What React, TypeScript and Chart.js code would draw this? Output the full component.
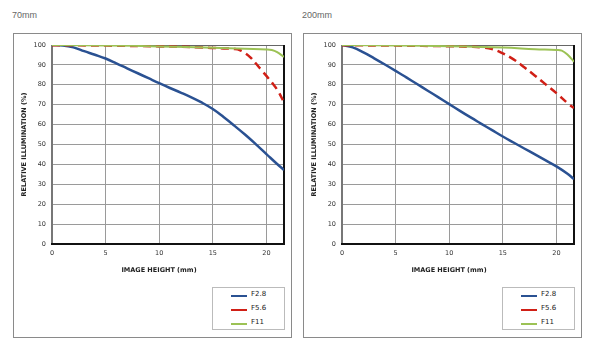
import React, { useEffect, useRef } from "react";
import { Chart, registerables } from "chart.js";

Chart.register(...registerables);

// ---------- data ----------
const panelTitles = ["70mm", "200mm"];
const seriesLabels = ["F2.8", "F5.6", "F11"];
const xTickValues = [0, 5, 10, 15, 20];
const imageHeightMax = 21.64;

const f28Heights = [0, 1, 2, 3, 4, 5, 6, 7, 8, 9, 10, 11, 12, 13, 14, 15, 16, 17, 18, 19, 20, 21, 21.64];
const f28_70mm = [100, 99.8, 98.8, 96.9, 95.1, 93.2, 90.8, 88.3, 85.8, 83.3, 80.8, 78.4, 76.1, 73.7, 71.0, 67.8, 63.8, 59.5, 55.0, 50.2, 45.2, 40.2, 37.2];
const f28_200mm = [100, 98.8, 96.3, 93.3, 90.2, 87.0, 83.7, 80.4, 77.0, 73.7, 70.3, 66.9, 63.6, 60.4, 57.2, 54.0, 51.0, 48.0, 45.0, 42.0, 39.0, 35.4, 32.6];

const f56Heights70 = [0, 5, 10, 14, 15, 16, 17, 17.5, 18, 18.5, 19, 19.5, 20, 20.5, 21, 21.64];
const f56_70mm = [99.9, 99.7, 99.3, 98.8, 98.5, 98.3, 98.0, 97.5, 96.0, 93.8, 90.8, 87.6, 84.5, 81.2, 77.6, 71.3];
const f56Heights200 = [0, 5, 10, 12, 13, 14, 15, 16, 17, 18, 19, 20, 21, 21.64];
const f56_200mm = [99.9, 99.7, 99.4, 99.1, 98.8, 98.0, 95.8, 92.8, 88.8, 84.6, 80.2, 75.8, 71.0, 68.3];

const f11Heights = [0, 5, 10, 15, 18, 20, 20.5, 21, 21.64];
const f11_70mm = [100, 99.8, 99.3, 98.6, 98.1, 97.8, 97.5, 96.4, 94.0];
const f11_200mm = [100, 99.8, 99.4, 98.7, 97.9, 97.5, 97.2, 95.3, 91.6];

// ---------- styles ----------
const BLUE = "#2a5192";
const RED = "#d01f16";
const GREEN = "#9cc255";
const FONT = "'DejaVu Sans', sans-serif";

const toPoints = (xs: number[], ys: number[]) => xs.map((x, i) => ({ x, y: ys[i] }));

const framePlugin = {
  id: "frame",
  beforeDatasetsDraw(chart: any) {
    const { ctx, chartArea } = chart;
    const { left, right, top, bottom } = chartArea;
    ctx.save();
    ctx.strokeStyle = "#666";
    ctx.lineWidth = 1;
    ctx.beginPath();
    ctx.moveTo(left, Math.round(top) + 0.5);
    ctx.lineTo(right, Math.round(top) + 0.5);
    ctx.stroke();
    ctx.lineWidth = 2;
    ctx.strokeStyle = "#777";
    ctx.beginPath();
    ctx.moveTo(Math.round(left), top);
    ctx.lineTo(Math.round(left), bottom);
    ctx.stroke();
    ctx.strokeStyle = "#111";
    ctx.beginPath();
    ctx.moveTo(Math.round(right), top);
    ctx.lineTo(Math.round(right), bottom + 1);
    ctx.stroke();
    ctx.beginPath();
    ctx.moveTo(left - 1, Math.round(bottom));
    ctx.lineTo(right + 1, Math.round(bottom));
    ctx.stroke();
    ctx.restore();
  },
  afterDraw(chart: any) {
    const { ctx, chartArea } = chart;
    ctx.save();
    ctx.font = `bold 6.5px ${FONT}`;
    ctx.fillStyle = "#222";
    ctx.textAlign = "center";
    ctx.textBaseline = "middle";
    ctx.fillText("IMAGE HEIGHT (mm)", chartArea.left + 107, chartArea.bottom + 26.5);
    ctx.restore();
  },
};

type Series = { x: number[]; y: number[] };

function Panel({ title, offset, f28, f56, f11 }: { title: string; offset: number; f28: Series; f56: Series; f11: Series }) {
  const ref = useRef<HTMLCanvasElement | null>(null);
  useEffect(() => {
    if (!ref.current) return;
    const tickFont = { family: FONT, size: 6.5 };
    const chart = new Chart(ref.current, {
      type: "line",
      data: {
        datasets: [
          { label: seriesLabels[0], data: toPoints(f28.x, f28.y), borderColor: BLUE, borderWidth: 2.5, pointRadius: 0, tension: 0.4, fill: false, order: 2 },
          { label: seriesLabels[1], data: toPoints(f56.x, f56.y), borderColor: RED, borderWidth: 2.5, borderDash: [8, 5], pointRadius: 0, tension: 0.4, fill: false, order: 1 },
          { label: seriesLabels[2], data: toPoints(f11.x, f11.y), borderColor: GREEN, borderWidth: 2, pointRadius: 0, tension: 0.4, fill: false, order: 0 },
        ],
      } as any,
      options: {
        animation: false,
        responsive: false,
        layout: { padding: { left: 0, right: 7, top: 11, bottom: 0 } },
        plugins: { legend: { display: false }, tooltip: { enabled: false } },
        scales: {
          x: {
            type: "linear",
            min: 0,
            max: imageHeightMax,
            ticks: { stepSize: 5, padding: 5, font: tickFont, color: "#333", maxRotation: 0, autoSkip: false },
            afterBuildTicks: (s: any) => {
              s.ticks = xTickValues.map((v) => ({ value: v }));
            },
            afterFit: (s: any) => {
              s.height = 93;
            },
            grid: { color: "#9a9a9a", lineWidth: 1, drawTicks: false },
            border: { display: false },
          },
          y: {
            min: 0,
            max: 100,
            ticks: { stepSize: 10, padding: 6, font: tickFont, color: "#333" },
            afterFit: (s: any) => {
              s.width = 38;
            },
            grid: { color: "#9a9a9a", lineWidth: 1, drawTicks: false },
            border: { display: false },
            title: {
              display: true,
              text: "RELATIVE ILLUMINATION (%)",
              font: { family: FONT, size: 6.5, weight: "bold" },
              color: "#222",
              padding: { top: 6, bottom: 0 },
            },
          },
        },
      } as any,
      plugins: [framePlugin],
    });
    return () => chart.destroy();
  }, []);

  const legendRows = [
    { label: seriesLabels[0], color: BLUE },
    { label: seriesLabels[1], color: RED },
    { label: seriesLabels[2], color: GREEN },
  ];

  return (
    <>
      <div style={{ position: "absolute", left: offset + 12, top: 10, font: "9px 'Liberation Sans', Arial, sans-serif", color: "#666" }}>{title}</div>
      <div style={{ position: "absolute", left: offset + 13, top: 33, width: 279, height: 305, boxSizing: "border-box", border: "1px solid #8a8a8a" }} />
      <canvas ref={ref} width={277} height={303} style={{ position: "absolute", left: offset + 14, top: 34, width: 277, height: 303 }} />
      <div style={{ position: "absolute", left: offset + 212, top: 287, width: 73, height: 43, boxSizing: "border-box", border: "1px solid #bbb", background: "#fff" }}>
        {legendRows.map((r, i) => (
          <div key={r.label} style={{ position: "absolute", left: 0, top: 2 + i * 14, height: 12, width: 70 }}>
            <div style={{ position: "absolute", left: 18, top: 5, width: 16, height: 2, background: r.color }} />
            <div style={{ position: "absolute", left: 38, top: 0, lineHeight: "12px", font: `7px ${FONT}`, color: "#222" }}>{r.label}</div>
          </div>
        ))}
      </div>
    </>
  );
}

export default function App() {
  return (
    <div style={{ position: "absolute", left: 0, top: 0, width: 594, height: 356, background: "#fff", overflow: "hidden" }}>
      <Panel
        title={panelTitles[0]}
        offset={0}
        f28={{ x: f28Heights, y: f28_70mm }}
        f56={{ x: f56Heights70, y: f56_70mm }}
        f11={{ x: f11Heights, y: f11_70mm }}
      />
      <Panel
        title={panelTitles[1]}
        offset={290}
        f28={{ x: f28Heights, y: f28_200mm }}
        f56={{ x: f56Heights200, y: f56_200mm }}
        f11={{ x: f11Heights, y: f11_200mm }}
      />
    </div>
  );
}
